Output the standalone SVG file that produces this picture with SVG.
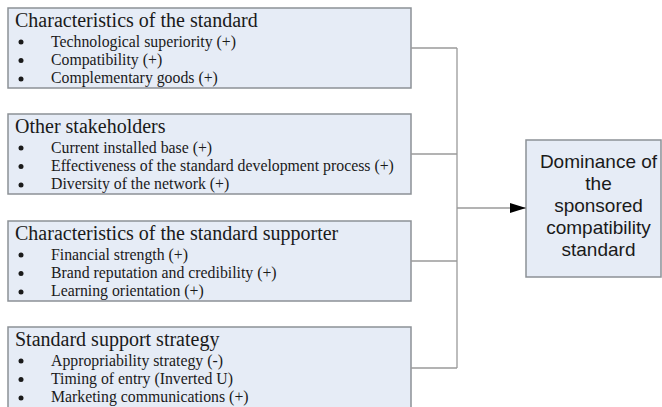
<svg xmlns="http://www.w3.org/2000/svg" width="662" height="407" viewBox="0 0 662 407">
<style>
.box{fill:#e6ecf6;stroke:#8c9196;stroke-width:1.5}
.title{font-family:"Liberation Serif",serif;font-size:20px;fill:#1a1a1a}
.item{font-family:"Liberation Serif",serif;font-size:15.8px;fill:#1a1a1a}
.bul{fill:#1a1a1a}
.res{font-family:"Liberation Sans",Arial,sans-serif;font-size:19px;fill:#1a1a1a;text-anchor:middle}
.conn{fill:none;stroke:#9a9a9a;stroke-width:1.3}
</style>
<defs>
<marker id="arr" markerUnits="userSpaceOnUse" markerWidth="16" markerHeight="10" refX="16" refY="5" orient="auto">
<path d="M0,0 L16,5 L0,10 Z" fill="#000"/>
</marker>
</defs>
<rect width="662" height="407" fill="#fff"/>
<g id="n1">
<rect class="box" x="8" y="8" width="403" height="80"/>
<text class="title" x="15" y="27">Characteristics of the standard</text>
<circle class="bul" cx="21" cy="42" r="2.5"/><text class="item" x="51" y="47">Technological superiority (+)</text>
<circle class="bul" cx="21" cy="60.5" r="2.5"/><text class="item" x="51" y="65">Compatibility (+)</text>
<circle class="bul" cx="21" cy="79" r="2.5"/><text class="item" x="51" y="83">Complementary goods (+)</text>
</g>
<g id="n2">
<rect class="box" x="8" y="114" width="403" height="80"/>
<text class="title" x="15" y="133">Other stakeholders</text>
<circle class="bul" cx="21" cy="148" r="2.5"/><text class="item" x="51" y="153">Current installed base (+)</text>
<circle class="bul" cx="21" cy="166.5" r="2.5"/><text class="item" x="51" y="171">Effectiveness of the standard development process (+)</text>
<circle class="bul" cx="21" cy="185" r="2.5"/><text class="item" x="51" y="189">Diversity of the network (+)</text>
</g>
<g id="n3">
<rect class="box" x="8" y="221" width="403" height="80"/>
<text class="title" x="15" y="240">Characteristics of the standard supporter</text>
<circle class="bul" cx="21" cy="255" r="2.5"/><text class="item" x="51" y="260">Financial strength (+)</text>
<circle class="bul" cx="21" cy="273.5" r="2.5"/><text class="item" x="51" y="278">Brand reputation and credibility (+)</text>
<circle class="bul" cx="21" cy="292" r="2.5"/><text class="item" x="51" y="296">Learning orientation (+)</text>
</g>
<g id="n4">
<rect class="box" x="8" y="327" width="403" height="82"/>
<text class="title" x="15" y="346">Standard support strategy</text>
<circle class="bul" cx="21" cy="361" r="2.5"/><text class="item" x="51" y="366">Appropriability strategy (-)</text>
<circle class="bul" cx="21" cy="379.5" r="2.5"/><text class="item" x="51" y="384">Timing of entry (Inverted U)</text>
<circle class="bul" cx="21" cy="398" r="2.5"/><text class="item" x="51" y="402">Marketing communications (+)</text>
</g>
<g id="n5">
<rect class="box" x="526" y="140" width="135" height="137"/>
<text class="res" x="598.5" y="168">Dominance of</text>
<text class="res" x="598.5" y="190">the</text>
<text class="res" x="598.5" y="212">sponsored</text>
<text class="res" x="598.5" y="234">compatibility</text>
<text class="res" x="598.5" y="256">standard</text>
</g>
<g id="connectors">
<path class="conn" d="M411,48 H457 M411,154 H457 M411,261 H457 M411,368 H457 M457,48 V368"/>
<path class="conn" d="M457,208 H526" marker-end="url(#arr)"/>
</g>
</svg>
